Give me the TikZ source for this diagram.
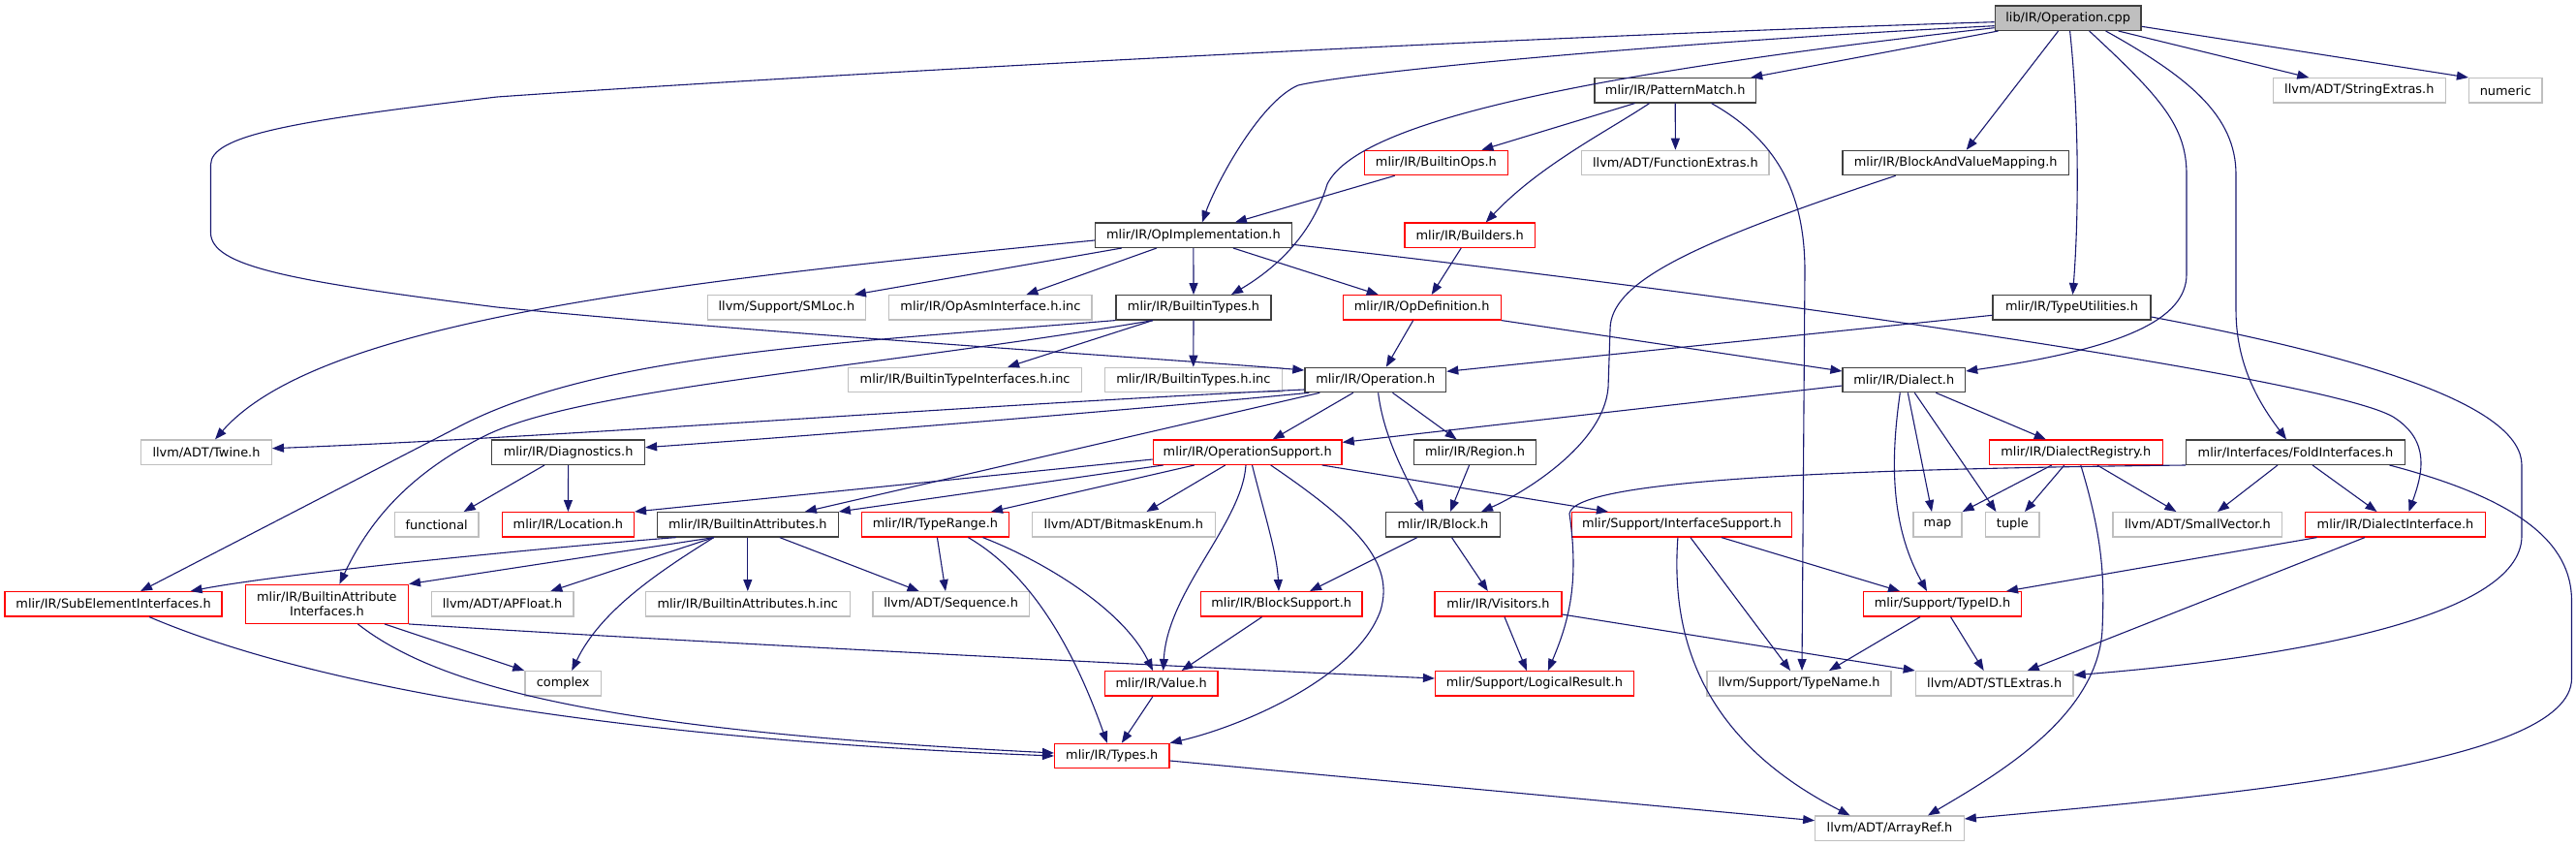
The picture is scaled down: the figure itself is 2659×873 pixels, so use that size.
\documentclass[tikz,border=0pt]{standalone}
\usepackage{fontspec}
\newfontfamily\dvs{DejaVu Sans}
\usetikzlibrary{arrows.meta}
\definecolor{edgec}{HTML}{191970}
\definecolor{gborder}{HTML}{BFBFBF}
\definecolor{nblk}{HTML}{404040}
\definecolor{rootfill}{HTML}{BFBFBF}
\newcommand\nfont{\dvs\fontsize{12.9pt}{15pt}\selectfont}
\tikzset{
  nd/.style={draw, rectangle, minimum height=25.3pt, inner sep=0pt, font=\nfont, text=black, line width=1.3pt},
  blk/.style={nd, draw=nblk},
  rn/.style={nd, draw=red},
  gn/.style={nd, draw=gborder},
  rootn/.style={nd, draw=nblk, fill=rootfill},
  e/.style={draw=edgec, line width=1.1pt, -{Triangle[length=12pt,width=9pt]}},
}
\begin{document}
\begin{tikzpicture}[x=1pt,y=-1pt]
\fill[white] (0,0) rectangle (2659,873);
\useasboundingbox (0,0) rectangle (2659,873);
% nodes
\node[rootn, minimum width=150.8pt] (cpp) at (2134.6,18.7) {lib/IR/Operation.cpp};
\node[blk, minimum width=166.3pt] (pattern) at (1729.2,93.3) {mlir/IR/PatternMatch.h};
\node[gn, minimum width=177.8pt] (strext) at (2435.3,93.3) {llvm/ADT/StringExtras.h};
\node[gn, minimum width=75.3pt] (numeric) at (2586.2,93.3) {numeric};
\node[rn, minimum width=147.8pt] (bops) at (1482.4,168) {mlir/IR/BuiltinOps.h};
\node[gn, minimum width=193.2pt] (funcext) at (1729.4,168) {llvm/ADT/FunctionExtras.h};
\node[blk, minimum width=233.3pt] (bavm) at (2018.7,168) {mlir/IR/BlockAndValueMapping.h};
\node[blk, minimum width=202.7pt] (opimpl) at (1231.9,242.7) {mlir/IR/OpImplementation.h};
\node[rn, minimum width=134.6pt] (builders) at (1517.2,242.7) {mlir/IR/Builders.h};
\node[gn, minimum width=162.8pt] (smloc) at (811.9,317.3) {llvm/Support/SMLoc.h};
\node[gn, minimum width=209.4pt] (opasm) at (1022.4,317.3) {mlir/IR/OpAsmInterface.h.inc};
\node[blk, minimum width=160.2pt] (btypes) at (1232,317.3) {mlir/IR/BuiltinTypes.h};
\node[rn, minimum width=162.9pt] (opdef) at (1467.7,317.3) {mlir/IR/OpDefinition.h};
\node[blk, minimum width=162.8pt] (typeutil) at (2138.5,317.3) {mlir/IR/TypeUtilities.h};
\node[gn, minimum width=241.4pt] (btypeif) at (996.1,392) {mlir/IR/BuiltinTypeInterfaces.h.inc};
\node[gn, minimum width=182.9pt] (btypesinc) at (1231.8,392) {mlir/IR/BuiltinTypes.h.inc};
\node[blk, minimum width=145.7pt] (op) at (1419.8,392) {mlir/IR/Operation.h};
\node[blk, minimum width=126.5pt] (dialect) at (1965.3,392) {mlir/IR/Dialect.h};
\node[gn, minimum width=134.6pt] (twine) at (213,466.7) {llvm/ADT/Twine.h};
\node[blk, minimum width=157.7pt] (diag) at (586.6,466.7) {mlir/IR/Diagnostics.h};
\node[rn, minimum width=194.7pt] (opsupport) at (1287.7,466.7) {mlir/IR/OperationSupport.h};
\node[blk, minimum width=125.7pt] (region) at (1522.6,466.7) {mlir/IR/Region.h};
\node[rn, minimum width=179.1pt] (dregistry) at (2142.8,466.7) {mlir/IR/DialectRegistry.h};
\node[blk, minimum width=225.6pt] (fold) at (2369.5,466.7) {mlir/Interfaces/FoldInterfaces.h};
\node[gn, minimum width=86.7pt] (functional) at (450.7,541.3) {functional};
\node[rn, minimum width=135.9pt] (location) at (586.4,541.3) {mlir/IR/Location.h};
\node[blk, minimum width=186.7pt] (battr) at (771.8,541.3) {mlir/IR/BuiltinAttributes.h};
\node[rn, minimum width=151.7pt] (typerange) at (965.4,541.3) {mlir/IR/TypeRange.h};
\node[gn, minimum width=189.3pt] (bitmask) at (1159.8,541.3) {llvm/ADT/BitmaskEnum.h};
\node[blk, minimum width=117.5pt] (block) at (1489.5,541.3) {mlir/IR/Block.h};
\node[rn, minimum width=226.5pt] (ifsupport) at (1735.9,541.3) {mlir/Support/InterfaceSupport.h};
\node[gn, minimum width=50pt] (map) at (2000,541.3) {map};
\node[gn, minimum width=55.2pt] (tuple) at (2077.4,541.3) {tuple};
\node[gn, minimum width=174.8pt] (smallvec) at (2268.4,541.3) {llvm/ADT/SmallVector.h};
\node[rn, minimum width=185.5pt] (dinterface) at (2472.5,541.3) {mlir/IR/DialectInterface.h};
\node[rn, minimum width=224pt] (subelem) at (117.1,623.3) {mlir/IR/SubElementInterfaces.h};
\node[rn, minimum width=168pt, minimum height=40pt, align=center] (baif) at (337.4,623.3) {mlir/IR/BuiltinAttribute\\Interfaces.h};
\node[gn, minimum width=146.6pt] (apfloat) at (518.6,623.3) {llvm/ADT/APFloat.h};
\node[gn, minimum width=210.7pt] (battrinc) at (771.8,623.3) {mlir/IR/BuiltinAttributes.h.inc};
\node[gn, minimum width=161.1pt] (sequence) at (981.6,623.3) {llvm/ADT/Sequence.h};
\node[rn, minimum width=166.4pt] (blocksupport) at (1322.7,623.3) {mlir/IR/BlockSupport.h};
\node[rn, minimum width=130.8pt] (visitors) at (1546.5,623.3) {mlir/IR/Visitors.h};
\node[rn, minimum width=163.2pt] (typeid) at (2005,623.3) {mlir/Support/TypeID.h};
\node[gn, minimum width=78.6pt] (complex) at (581.2,705.3) {complex};
\node[rn, minimum width=116.7pt] (value) at (1198.7,705.3) {mlir/IR/Value.h};
\node[rn, minimum width=204.7pt] (logical) at (1583.9,705.3) {mlir/Support/LogicalResult.h};
\node[gn, minimum width=190.1pt] (typename) at (1857,705.3) {llvm/Support/TypeName.h};
\node[gn, minimum width=162.7pt] (stlextras) at (2058.7,705.3) {llvm/ADT/STLExtras.h};
\node[rn, minimum width=118.4pt] (types) at (1147.8,780) {mlir/IR/Types.h};
\node[gn, minimum width=153.4pt] (arrayref) at (1950.5,854.7) {llvm/ADT/ArrayRef.h};
% edges from root
\draw[e] ([yshift=-8pt]cpp.west) .. controls (1700,45) and (1395,75) .. (1340,88) .. controls (1300,105) and (1255,190) .. ([xshift=9pt]opimpl.north);
\draw[e] ([yshift=-10pt]cpp.west) .. controls (1600,80) and (1400,130) .. (1370,190) .. controls (1355,240) and (1320,275) .. ([xshift=39pt]btypes.north);
\draw[e] ([yshift=-4pt]cpp.west) .. controls (1500,40) and (800,80) .. (513,100) .. controls (300,125) and (217.5,140) .. (217.5,170) -- (217.5,240) .. controls (217.5,275) and (300,290) .. (513,317) .. controls (800,345) and (1200,370) .. ([yshift=10pt]op.west);
\draw[e] ([xshift=-72pt]cpp.south) -- ([xshift=78pt]pattern.north);
\draw[e] ([xshift=-10pt]cpp.south) -- ([xshift=11pt]bavm.north);
\draw[e] ([xshift=2pt]cpp.south) .. controls (2146,120) and (2146,220) .. ([xshift=1pt]typeutil.north);
\draw[e] ([xshift=22pt]cpp.south) .. controls (2230,100) and (2257,130) .. (2257,180) -- (2257,283) .. controls (2257,330) and (2190,360) .. ([yshift=9pt]dialect.east);
\draw[e] ([xshift=39pt]cpp.south) .. controls (2260,80) and (2308,120) .. (2308,180) -- (2308,320) .. controls (2308,380) and (2335,420) .. ([xshift=-9.5pt]fold.north);
\draw[e] ([xshift=52pt]cpp.south) -- ([xshift=-52pt]strext.north);
\draw[e] ([yshift=-8.6pt]cpp.east) -- (numeric.north west);
% pattern match
\draw[e] ([xshift=-41.7pt]pattern.south) -- ([xshift=47pt]bops.north);
\draw[e] (pattern.south) -- (funcext.north);
\draw[e] ([xshift=-26.7pt]pattern.south) .. controls (1660,135) and (1590,170) .. ([xshift=16.5pt]builders.north);
\draw[e] ([xshift=37.4pt]pattern.south) .. controls (1835,145) and (1863,200) .. (1863,280) -- ([xshift=3pt]typename.north);
\draw[e] ([xshift=-42.7pt]bops.south) -- ([xshift=43pt]opimpl.north);
\draw[e] ([xshift=-9pt]builders.south) -- ([xshift=10pt]opdef.north);
% op implementation
\draw[e] ([yshift=-5.3pt]opimpl.west) .. controls (700,290) and (330,330) .. ([xshift=9pt]twine.north);
\draw[e] ([xshift=-74pt]opimpl.south) -- ([xshift=70pt]smloc.north);
\draw[e] ([xshift=-38pt]opimpl.south) -- ([xshift=37pt]opasm.north);
\draw[e] (opimpl.south) -- (btypes.north);
\draw[e] ([xshift=41pt]opimpl.south) -- ([xshift=-45pt]opdef.north);
\draw[e] ([yshift=-9.6pt]opimpl.east) .. controls (1800,305) and (2400,390) .. (2470,430) .. controls (2510,455) and (2500,490) .. ([xshift=14pt]dinterface.north);
% type utilities, bavm
\draw[e] ([yshift=-8pt]typeutil.west) -- ([yshift=8.7pt]op.east);
\draw[e] ([yshift=-9.7pt]typeutil.east) .. controls (2450,370) and (2603,420) .. (2603,480) -- (2603,553) .. controls (2603,640) and (2350,680) .. ([yshift=8.6pt]stlextras.east);
\draw[e] ([xshift=-62pt]bavm.south) .. controls (1750,250) and (1662,290) .. (1662,340) -- (1660,400) .. controls (1655,460) and (1570,510) .. ([xshift=39.5pt]block.north);
% op definition
\draw[e] ([xshift=-9pt]opdef.south) -- ([xshift=11pt]op.north);
\draw[e] (opdef.south east) -- ([yshift=9pt]dialect.west);
% builtin types
\draw[e] ([xshift=-42pt]btypes.south) -- ([xshift=44pt]btypeif.north);
\draw[e] (btypes.south) -- (btypesinc.north);
\draw[e] (btypes.south west) .. controls (850,355) and (623,366) .. (480,437) -- ([xshift=28pt]subelem.north);
\draw[e] ([xshift=-42pt]btypes.south) .. controls (900,380) and (600,400) .. (500,450) .. controls (420,490) and (380,540) .. ([xshift=13pt]baif.north);
% operation.h
\draw[e] ([yshift=-10pt]op.west) .. controls (1000,418) and (600,450) .. ([yshift=4pt]twine.east);
\draw[e] ([xshift=5pt]op.south west) .. controls (1200,420) and (900,445) .. ([yshift=5pt]diag.east);
\draw[e] ([xshift=16pt]op.south west) -- ([xshift=59pt]battr.north);
\draw[e] ([xshift=-23pt]op.south) -- ([xshift=26pt]opsupport.north);
\draw[e] ([xshift=2.8pt]op.south) .. controls (1428,450) and (1450,490) .. ([xshift=-20pt]block.north);
\draw[e] ([xshift=17.7pt]op.south) -- ([xshift=-19pt]region.north);
% dialect
\draw[e] ([yshift=-6pt]dialect.west) -- ([yshift=-3pt]opsupport.north east);
\draw[e] ([xshift=-4pt]dialect.south) .. controls (1952,470) and (1950,540) .. ([xshift=-16pt]typeid.north);
\draw[e] ([xshift=4pt]dialect.south) -- ([xshift=-6pt]map.north);
\draw[e] ([xshift=11pt]dialect.south) -- ([xshift=-17pt]tuple.north);
\draw[e] ([xshift=33pt]dialect.south) -- ([xshift=-31pt]dregistry.north);
% operation support
\draw[e] ([yshift=-7.3pt]opsupport.west) -- (location.north east);
\draw[e] ([xshift=-87pt]opsupport.south) -- (battr.north east);
\draw[e] ([xshift=-55pt]opsupport.south) -- ([xshift=57.6pt]typerange.north);
\draw[e] ([xshift=-23pt]opsupport.south) -- ([xshift=23.7pt]bitmask.north);
\draw[e] ([xshift=-1.7pt]opsupport.south) .. controls (1282,540) and (1205,610) .. ([xshift=2pt]value.north);
\draw[e] ([xshift=4.8pt]opsupport.south) .. controls (1305,530) and (1318,570) .. ([xshift=-2.7pt]blocksupport.north);
\draw[e] ([xshift=24pt]opsupport.south) .. controls (1400,540) and (1440,580) .. (1425,630) .. controls (1400,700) and (1280,750) .. (types.north east);
\draw[e] ([xshift=77pt]opsupport.south) -- ([xshift=-76pt]ifsupport.north);
% builtin attributes
\draw[e] ([xshift=20pt]battr.south west) .. controls (600,562) and (300,590) .. ([xshift=79.5pt]subelem.north);
\draw[e] ([xshift=-35pt]battr.south) -- (baif.north east);
\draw[e] ([xshift=-35pt]battr.south) -- ([xshift=49.7pt]apfloat.north);
\draw[e] ([xshift=-35pt]battr.south) .. controls (680,590) and (620,630) .. ([xshift=9pt]complex.north);
\draw[e] (battr.south) -- (battrinc.north);
\draw[e] ([xshift=33pt]battr.south) -- ([xshift=-33pt]sequence.north);
% type range
\draw[e] ([xshift=2pt]typerange.south) -- ([xshift=-5.6pt]sequence.north);
\draw[e] ([xshift=34pt]typerange.south) .. controls (1060,590) and (1105,660) .. ([xshift=-5pt]types.north);
\draw[e] ([xshift=49pt]typerange.south) .. controls (1080,580) and (1160,630) .. ([xshift=-8.7pt]value.north);
% value, types
\draw[e] ([xshift=-20pt]blocksupport.south) -- ([xshift=21pt]value.north);
\draw[e] ([xshift=-8.7pt]value.south) -- ([xshift=10pt]types.north);
\draw[e] ([yshift=-5pt]types.east) -- ([yshift=8pt]arrayref.west);
% region, block, visitors
\draw[e] ([xshift=-6pt]region.south) -- ([xshift=7.5pt]block.north);
\draw[e] ([xshift=-26.5pt]block.south) -- ([xshift=29.3pt]blocksupport.north);
\draw[e] ([xshift=9pt]block.south) -- ([xshift=-10.7pt]visitors.north);
\draw[e] ([xshift=6.5pt]visitors.south) -- ([xshift=-8pt]logical.north);
\draw[e] ([yshift=-10.7pt]visitors.east) -- (stlextras.north west);
% attribute interfaces, sub elements
\draw[e] ([xshift=59.6pt]baif.south) -- (complex.north west);
\draw[e] (baif.south east) .. controls (700,662) and (1300,692) .. ([yshift=5.3pt]logical.west);
\draw[e] ([xshift=32pt]baif.south) .. controls (460,715) and (650,755) .. ([yshift=3pt]types.west);
\draw[e] ([xshift=37pt]subelem.south) .. controls (350,720) and (700,765) .. (types.west);
% diagnostics
\draw[e] ([xshift=-24.6pt]diag.south) -- ([xshift=28pt]functional.north);
\draw[e] (diag.south) -- (location.north);
% interface support
\draw[e] ([xshift=9pt]ifsupport.south) -- ([xshift=-9pt]typename.north);
\draw[e] ([xshift=-4pt]ifsupport.south) .. controls (1725,650) and (1750,760) .. ([xshift=-41pt]arrayref.north);
\draw[e] ([xshift=41pt]ifsupport.south) -- ([xshift=-44pt]typeid.north);
% type id
\draw[e] ([xshift=-23pt]typeid.south) -- ([xshift=31pt]typename.north);
\draw[e] ([xshift=8.5pt]typeid.south) -- ([xshift=-11pt]stlextras.north);
% dialect registry
\draw[e] ([xshift=-25pt]dregistry.south) -- (map.north east);
\draw[e] ([xshift=-12pt]dregistry.south) -- ([xshift=12.6pt]tuple.north);
\draw[e] ([xshift=22pt]dregistry.south) -- ([xshift=-22pt]smallvec.north);
\draw[e] ([xshift=5pt]dregistry.south) .. controls (2172,560) and (2172,600) .. (2170,650) .. controls (2165,740) and (2060,800) .. ([xshift=39.5pt]arrayref.north);
% fold interfaces
\draw[e] (fold.south west) .. controls (1900,484) and (1625,495) .. (1620,530) .. controls (1630,600) and (1620,640) .. ([xshift=14pt]logical.north);
\draw[e] ([xshift=-18.5pt]fold.south) -- ([xshift=20.6pt]smallvec.north);
\draw[e] ([xshift=17.5pt]fold.south) -- ([xshift=-19pt]dinterface.north);
\draw[e] ([xshift=97pt]fold.south) .. controls (2600,515) and (2654.5,560) .. (2654.5,620) -- (2654.5,700) .. controls (2654.5,790) and (2300,820) .. ([yshift=9.7pt]arrayref.east);
% dialect interface
\draw[e] ([xshift=-81pt]dinterface.south) -- ([xshift=66pt]typeid.north);
\draw[e] ([xshift=-31.5pt]dinterface.south) -- ([xshift=34pt]stlextras.north);
\end{tikzpicture}
\end{document}
